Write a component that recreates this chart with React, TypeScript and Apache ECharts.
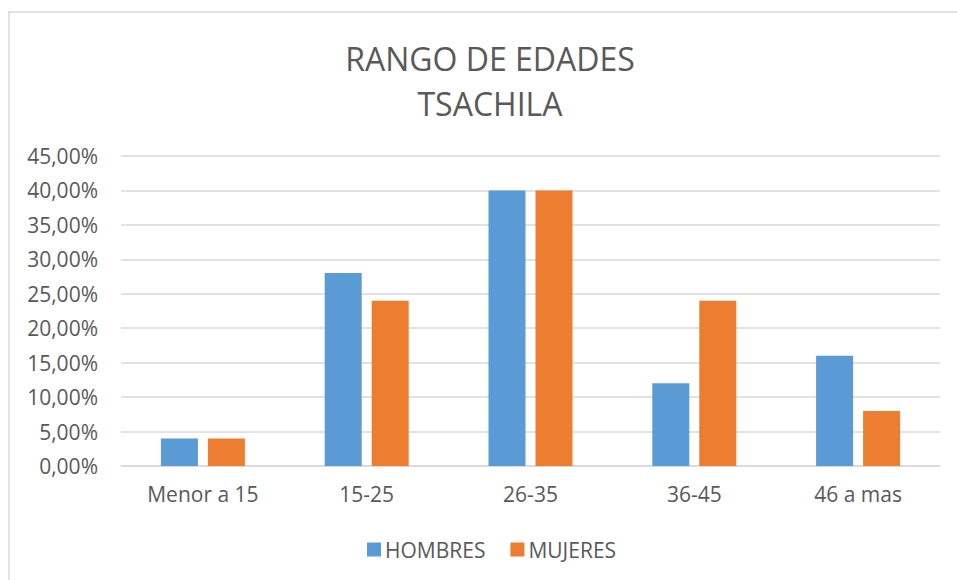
import React, { useEffect, useRef } from "react";
import * as echarts from "echarts";

const categories = ["Menor a 15", "15-25", "26-35", "36-45", "46 a mas"];
const hombres = [0.04, 0.28, 0.4, 0.12, 0.16];
const mujeres = [0.04, 0.24, 0.4, 0.24, 0.08];
const titleLines = ["RANGO DE EDADES", "TSACHILA"];
const seriesNames = ["HOMBRES", "MUJERES"];

const FONT = "'Open Sans', sans-serif";
const TEXT = "#595959";

export default function App() {
  const ref = useRef<HTMLDivElement>(null);
  useEffect(() => {
    if (!ref.current) return;
    const chart = echarts.init(ref.current, null, { renderer: "svg" });
    chart.setOption({
      animation: false,
      backgroundColor: "#ffffff",
      textStyle: { fontFamily: FONT },
      graphic: [
        {
          type: "rect",
          shape: { x: 9, y: 12, width: 1000, height: 600 },
          style: { fill: "none", stroke: "#d9d9d9", lineWidth: 1.5 },
          silent: true,
        },
        {
          type: "text",
          x: 490,
          y: 58,
          style: {
            text: titleLines[0],
            fontFamily: FONT,
            fontSize: 32,
            fill: TEXT,
            textAlign: "center",
            textVerticalAlign: "middle",
          },
        },
        {
          type: "text",
          x: 490,
          y: 103,
          style: {
            text: titleLines[1],
            fontFamily: FONT,
            fontSize: 32,
            fill: TEXT,
            textAlign: "center",
            textVerticalAlign: "middle",
          },
        },
      ],
      legend: {
        data: seriesNames,
        left: 367,
        top: 539,
        itemWidth: 14,
        itemHeight: 14,
        itemGap: 25,
        icon: "rect",
        textStyle: { fontFamily: FONT, fontSize: 21, color: TEXT, padding: [0, 0, 0, -1] },
        padding: 0,
      },
      grid: { left: 121, right: 17, top: 156, bottom: 114, containLabel: false },
      xAxis: {
        type: "category",
        data: categories,
        axisLine: { show: true, lineStyle: { color: "#d9d9d9", width: 1.5 } },
        axisTick: { show: false },
        axisLabel: { color: TEXT, fontSize: 21, fontFamily: FONT, margin: 17 },
      },
      yAxis: {
        type: "value",
        min: 0,
        max: 0.45,
        interval: 0.05,
        axisLine: { show: false },
        axisTick: { show: false },
        splitLine: { lineStyle: { color: "#d9d9d9", width: 1.5 } },
        axisLabel: {
          color: TEXT,
          fontSize: 21,
          fontFamily: FONT,
          margin: 23,
          formatter: (v: number) => (v * 100).toFixed(2).replace(".", ",") + "%",
        },
      },
      series: [
        {
          name: seriesNames[0],
          type: "bar",
          data: hombres,
          barWidth: 37,
          barGap: "27%",
          itemStyle: { color: "#5B9BD5" },
        },
        {
          name: seriesNames[1],
          type: "bar",
          data: mujeres,
          barWidth: 37,
          barGap: "27%",
          itemStyle: { color: "#ED7D31" },
        },
      ],
    });
    return () => chart.dispose();
  }, []);
  return (
    <div
      ref={ref}
      style={{ position: "fixed", left: 0, top: 0, width: 957, height: 580 }}
    />
  );
}
